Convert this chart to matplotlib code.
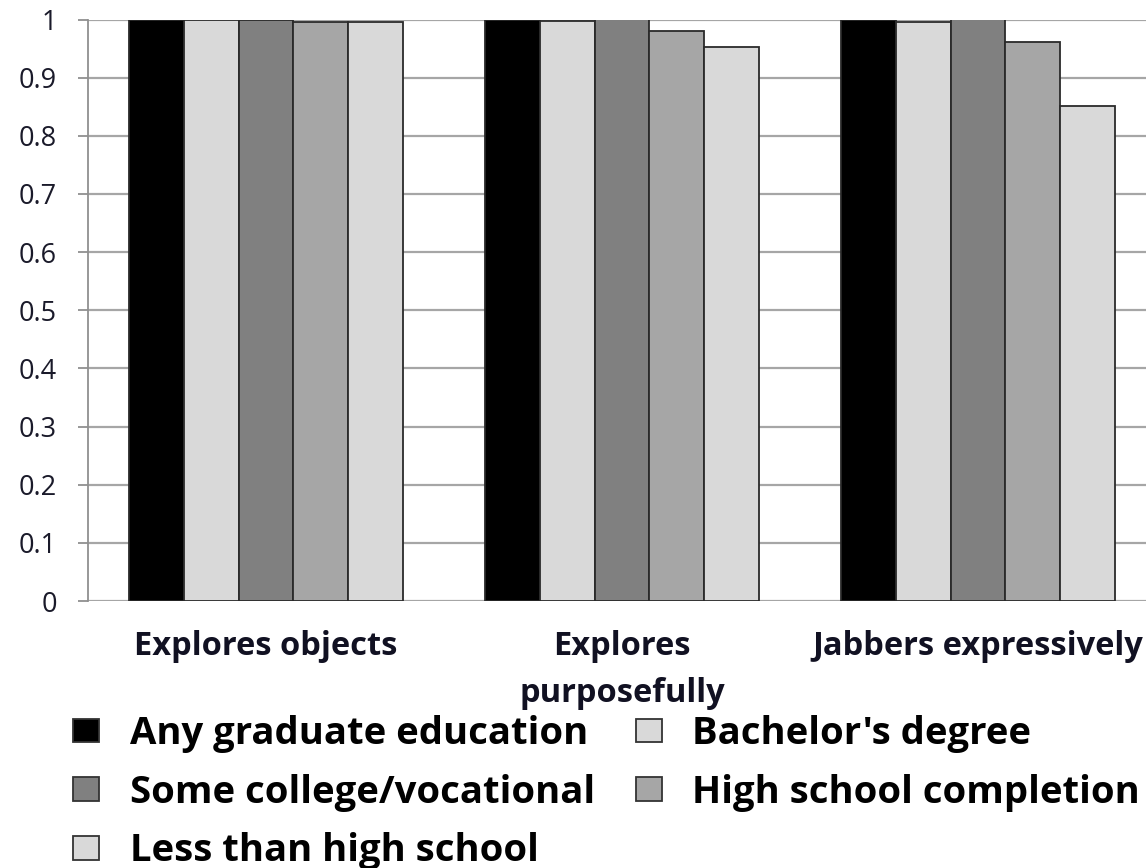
import numpy as np
import matplotlib
matplotlib.use("Agg")
import matplotlib.pyplot as plt
from matplotlib.patches import Patch

plt.rcParams['font.family'] = ['Open Sans', 'DejaVu Sans']

# data
categories = ["Explores objects", "Explores\npurposefully", "Jabbers expressively"]
series = ["Any graduate education", "Bachelor's degree", "Some college/vocational",
          "High school completion", "Less than high school"]
graduate = [1.000, 1.000, 1.000]
bachelor = [1.000, 0.998, 0.995]
college = [1.000, 1.005, 1.005]
highschool = [0.995, 0.981, 0.961]
less_hs = [0.995, 0.952, 0.851]
values = [graduate, bachelor, college, highschool, less_hs]
colors = ["#000000", "#d9d9d9", "#808080", "#a6a6a6", "#d9d9d9"]

fig = plt.figure(figsize=(11.46, 8.68), dpi=100)
W, H = 1146, 868
# plot area in pixels: x 88..1156 (right part cropped off), y 601 (=0) .. 19.5 (=1)
ax = fig.add_axes([88 / W, (H - 601) / H, (1156 - 88) / W, (601 - 19.5) / H])

x = np.arange(len(categories))
bw = 0.1535
for i, (vals, c) in enumerate(zip(values, colors)):
    ax.bar(x + (i - 2) * bw, vals, bw, color=c, edgecolor="#2a2a2a", linewidth=1.3,
           label=series[i], zorder=3)

ax.set_xlim(-0.5, 2.5)
ax.set_ylim(0, 1)
ax.set_yticks(np.arange(0, 1.01, 0.1))
ax.set_yticklabels(["0"] + ["%.1f" % v for v in np.arange(0.1, 0.95, 0.1)] + ["1"])
ax.yaxis.grid(True, color="#a6a6a6", linewidth=1.6, zorder=0)
ax.set_axisbelow(True)
for s in ["top", "right", "bottom"]:
    ax.spines[s].set_visible(False)
ax.spines["left"].set_color("#909090")
ax.spines["left"].set_linewidth(1.3)
ax.tick_params(axis="y", length=7.5, width=1.3, color="#909090", labelsize=19.5,
               labelcolor="#1a1a2a", pad=15)
ax.set_xticks(x)
ax.set_xticklabels(categories, fontsize=23.5, fontweight="bold", linespacing=1.55,
                   color="#111122")
ax.tick_params(axis="x", length=0, pad=21)

# legend filled row by row like the original
order = [0, 2, 4, 1, 3]
handles = [Patch(facecolor=colors[i], edgecolor="#333333", linewidth=1.3) for i in order]
labels = [series[i] for i in order]
fig.legend(handles, labels, loc="upper left", bbox_to_anchor=(73 / W, 1 - 715 / H),
           ncol=2, frameon=False, prop={"size": 27.5, "weight": "bold"},
           handlelength=0.68, handleheight=0.58, handletextpad=0.8,
           columnspacing=1.08, labelspacing=0.54, borderpad=0, borderaxespad=0)

fig.savefig("out.png", dpi=100)
